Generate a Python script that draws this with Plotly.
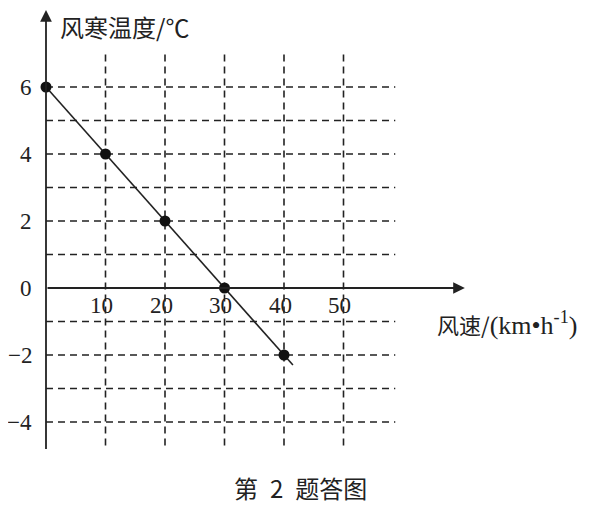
import plotly.graph_objects as go

# data
wind_speed = [0, 10, 20, 30, 40]
wind_chill = [6, 4, 2, 0, -2]
fit_x = [0, 41.5]
fit_y = [6, -2.3]
x_ticks = [10, 20, 30, 40, 50]
x_tick_labels = ["10", "20", "30", "40", "50"]
y_ticks = [-4, -2, 0, 2, 4, 6]
y_tick_labels = ["\u22124", "\u22122", "0", "2", "4", "6"]
h_grid = [-4, -3, -2, -1, 1, 2, 3, 4, 5, 6]
v_grid = [10, 20, 30, 40, 50]

x_title = ("<span style=\"font-size:22px\">风速/</span>"
           "<span style=\"font-family:'Liberation Serif'\">"
           "(km•h<sup>-1</sup>)</span>")
y_title = "风寒温度/℃"
caption = "第\u20022\u2002题答图"

INK = "#222222"
SERIF = "Liberation Serif, DejaVu Serif, serif"
CJK = "Noto Sans CJK SC, Liberation Serif, serif"

# page body has an 8px default margin; pixel positions below are in figure space
OX, OY = 46 - 8, 288 - 8
SX, SY = 5.95, 33.5
W, H = 600, 521

fig = go.Figure()

# dashed grid
gx, gy = [], []
for y in h_grid:
    gx += [0, 58.7, None]
    gy += [y, y, None]
for x in v_grid:
    gx += [x, x, None]
    gy += [-4.7, 7.1, None]
fig.add_trace(go.Scatter(x=gx, y=gy, mode="lines",
                         line=dict(color=INK, width=1.6, dash="7px,5px"),
                         hoverinfo="skip", showlegend=False))

# fitted line
fig.add_trace(go.Scatter(x=fit_x, y=fit_y, mode="lines",
                         line=dict(color=INK, width=1.6),
                         hoverinfo="skip", showlegend=False))
# points
fig.add_trace(go.Scatter(x=wind_speed, y=wind_chill, mode="markers",
                         marker=dict(color="#111111", size=11),
                         showlegend=False))

# axes with arrows
fig.add_annotation(x=0, y=8.3, ax=0, ay=-4.85, xref="x", yref="y", axref="x", ayref="y",
                   showarrow=True, arrowhead=2, arrowsize=1.3, arrowwidth=1.8,
                   arrowcolor=INK, text="")
fig.add_annotation(x=70.4, y=0, ax=0, ay=0, xref="x", yref="y", axref="x", ayref="y",
                   showarrow=True, arrowhead=2, arrowsize=1.3, arrowwidth=1.8,
                   arrowcolor=INK, text="")

# tick labels
for v, t in zip(x_ticks, x_tick_labels):
    fig.add_annotation(x=v - 0.6, y=-0.52, xref="x", yref="y", text=t, showarrow=False,
                       font=dict(family=SERIF, size=23, color=INK))
for v, t in zip(y_ticks, y_tick_labels):
    fig.add_annotation(x=-2.1, y=v, xref="x", yref="y", text=t, showarrow=False,
                       xanchor="right", font=dict(family=SERIF, size=23, color=INK))

# titles
fig.add_annotation(x=2.0, y=7.82, xref="x", yref="y", text=y_title, showarrow=False,
                   xanchor="left", font=dict(family=CJK, size=24, color=INK))
fig.add_annotation(x=65.3, y=-1.05, xref="x", yref="y", text=x_title, showarrow=False,
                   xanchor="left", font=dict(family=CJK, size=26, color=INK))
fig.add_annotation(x=(300 - 8) / W, y=1 - (507 - 8) / H, xref="paper", yref="paper",
                   text=caption, showarrow=False,
                   font=dict(family=CJK, size=24, color=INK))

fig.update_layout(
    width=W, height=H, autosize=False,
    margin=dict(l=0, r=0, t=0, b=0),
    paper_bgcolor="white", plot_bgcolor="white",
    xaxis=dict(range=[-OX / SX, (W - OX) / SX], visible=False, fixedrange=True),
    yaxis=dict(range=[-(H - OY) / SY, OY / SY], visible=False, fixedrange=True),
)

fig.write_html("out.html")
